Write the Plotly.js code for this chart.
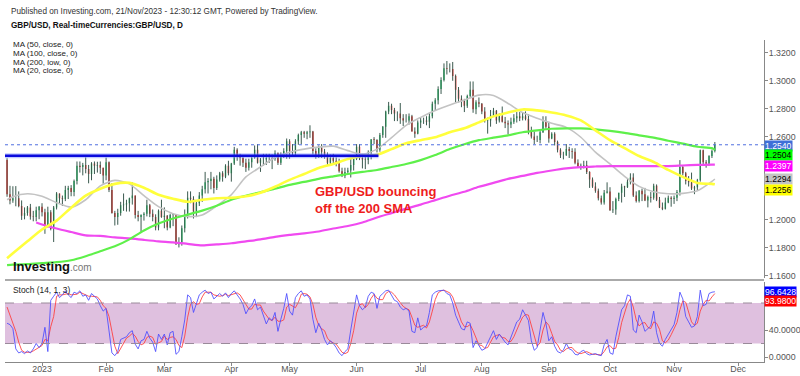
<!DOCTYPE html>
<html><head><meta charset="utf-8">
<script src="https://cdn.plot.ly/plotly-3.0.1.min.js"></script>
<style>html,body{margin:0;padding:0;background:#fff}#chart{width:800px;height:376px}</style>
</head><body><div id="chart"></div>
<script>
// ---------- DATA ----------
const dates = [
'2022-12-15','2022-12-16','2022-12-19','2022-12-20','2022-12-21','2022-12-22','2022-12-23','2022-12-26','2022-12-27','2022-12-28','2022-12-29','2022-12-30',
'2023-01-02','2023-01-03','2023-01-04','2023-01-05','2023-01-06','2023-01-09','2023-01-10','2023-01-11','2023-01-12','2023-01-13','2023-01-16','2023-01-17','2023-01-18','2023-01-19','2023-01-20','2023-01-23','2023-01-24','2023-01-25','2023-01-26','2023-01-27','2023-01-30','2023-01-31',
'2023-02-01','2023-02-02','2023-02-03','2023-02-06','2023-02-07','2023-02-08','2023-02-09','2023-02-10','2023-02-13','2023-02-14','2023-02-15','2023-02-16','2023-02-17','2023-02-20','2023-02-21','2023-02-22','2023-02-23','2023-02-24','2023-02-27','2023-02-28',
'2023-03-01','2023-03-02','2023-03-03','2023-03-06','2023-03-07','2023-03-08','2023-03-09','2023-03-10','2023-03-13','2023-03-14','2023-03-15','2023-03-16','2023-03-17','2023-03-20','2023-03-21','2023-03-22','2023-03-23','2023-03-24','2023-03-27','2023-03-28','2023-03-29','2023-03-30','2023-03-31',
'2023-04-03','2023-04-04','2023-04-05','2023-04-06','2023-04-07','2023-04-10','2023-04-11','2023-04-12','2023-04-13','2023-04-14','2023-04-17','2023-04-18','2023-04-19','2023-04-20','2023-04-21','2023-04-24','2023-04-25','2023-04-26','2023-04-27','2023-04-28',
'2023-05-01','2023-05-02','2023-05-03','2023-05-04','2023-05-05','2023-05-08','2023-05-09','2023-05-10','2023-05-11','2023-05-12','2023-05-15','2023-05-16','2023-05-17','2023-05-18','2023-05-19','2023-05-22','2023-05-23','2023-05-24','2023-05-25','2023-05-26','2023-05-29','2023-05-30','2023-05-31',
'2023-06-01','2023-06-02','2023-06-05','2023-06-06','2023-06-07','2023-06-08','2023-06-09','2023-06-12','2023-06-13','2023-06-14','2023-06-15','2023-06-16','2023-06-19','2023-06-20','2023-06-21','2023-06-22','2023-06-23','2023-06-26','2023-06-27','2023-06-28','2023-06-29','2023-06-30',
'2023-07-03','2023-07-04','2023-07-05','2023-07-06','2023-07-07','2023-07-10','2023-07-11','2023-07-12','2023-07-13','2023-07-14','2023-07-17','2023-07-18','2023-07-19','2023-07-20','2023-07-21','2023-07-24','2023-07-25','2023-07-26','2023-07-27','2023-07-28','2023-07-31',
'2023-08-01','2023-08-02','2023-08-03','2023-08-04','2023-08-07','2023-08-08','2023-08-09','2023-08-10','2023-08-11','2023-08-14','2023-08-15','2023-08-16','2023-08-17','2023-08-18','2023-08-21','2023-08-22','2023-08-23','2023-08-24','2023-08-25','2023-08-28','2023-08-29','2023-08-30','2023-08-31',
'2023-09-01','2023-09-04','2023-09-05','2023-09-06','2023-09-07','2023-09-08','2023-09-11','2023-09-12','2023-09-13','2023-09-14','2023-09-15','2023-09-18','2023-09-19','2023-09-20','2023-09-21','2023-09-22','2023-09-25','2023-09-26','2023-09-27','2023-09-28','2023-09-29',
'2023-10-02','2023-10-03','2023-10-04','2023-10-05','2023-10-06','2023-10-09','2023-10-10','2023-10-11','2023-10-12','2023-10-13','2023-10-16','2023-10-17','2023-10-18','2023-10-19','2023-10-20','2023-10-23','2023-10-24','2023-10-25','2023-10-26','2023-10-27','2023-10-30','2023-10-31',
'2023-11-01','2023-11-02','2023-11-03','2023-11-06','2023-11-07','2023-11-08','2023-11-09','2023-11-10','2023-11-13','2023-11-14','2023-11-15','2023-11-16','2023-11-17','2023-11-20','2023-11-21'
];
const open = [
1.2430,1.2185,1.2140,1.2155,1.2155,1.2100,1.2030,1.2050,1.2090,1.2025,1.2020,1.2070,
1.2095,1.2055,1.1960,1.2055,1.1935,1.2090,1.2190,1.2155,1.2150,1.2215,1.2230,1.2200,1.2280,1.2390,1.2380,1.2395,1.2365,1.2330,1.2405,1.2390,1.2395,1.2375,
1.2320,1.2415,1.2215,1.2050,1.2020,1.2050,1.2105,1.2110,1.2120,1.2155,1.2175,1.2035,1.2020,1.2035,1.2045,1.2105,1.2045,1.2020,1.1945,1.2065,
1.2020,1.2030,1.1945,1.2035,1.2040,1.1825,1.1835,1.1940,1.2030,1.2160,1.2150,1.2060,1.2120,1.2175,1.2220,1.2270,1.2280,1.2295,1.2230,1.2290,1.2335,1.2310,1.2390,
1.2335,1.2405,1.2505,1.2455,1.2445,1.2410,1.2375,1.2415,1.2445,1.2505,1.2410,1.2435,1.2435,1.2445,1.2445,1.2440,1.2480,1.2410,1.2470,1.2495,
1.2565,1.2495,1.2480,1.2565,1.2610,1.2630,1.2620,1.2630,1.2635,1.2495,1.2455,1.2520,1.2490,1.2455,1.2410,1.2445,1.2425,1.2415,1.2350,1.2315,1.2345,1.2355,1.2395,
1.2440,1.2525,1.2445,1.2435,1.2430,1.2485,1.2580,1.2575,1.2505,1.2610,1.2670,1.2780,1.2820,1.2790,1.2765,1.2765,1.2730,1.2715,1.2715,1.2745,1.2635,1.2620,
1.2700,1.2715,1.2715,1.2705,1.2745,1.2835,1.2860,1.2940,1.3005,1.3090,1.3085,1.3085,1.3035,1.2935,1.2870,1.2855,1.2820,1.2890,1.2935,1.2795,1.2845,
1.2835,1.2780,1.2710,1.2715,1.2750,1.2785,1.2715,1.2745,1.2705,1.2695,1.2685,1.2705,1.2730,1.2745,1.2730,1.2745,1.2725,1.2640,1.2600,1.2575,1.2575,1.2630,1.2705,
1.2670,1.2585,1.2620,1.2560,1.2505,1.2465,1.2465,1.2510,1.2495,1.2490,1.2410,1.2385,1.2390,1.2395,1.2345,1.2290,1.2240,1.2210,1.2155,1.2125,1.2195,
1.2205,1.2070,1.2075,1.2150,1.2195,1.2240,1.2235,1.2275,1.2305,1.2175,1.2135,1.2210,1.2185,1.2140,1.2165,1.2160,1.2245,1.2145,1.2090,1.2080,1.2125,1.2160,
1.2150,1.2160,1.2200,1.2380,1.2335,1.2280,1.2270,1.2225,1.2235,1.2285,1.2500,1.2415,1.2405,1.2460,1.2495
];
const high = [
1.2443,1.2245,1.2242,1.2243,1.2205,1.2140,1.2090,1.2100,1.2115,1.2065,1.2095,1.2100,
1.2120,1.2080,1.2095,1.2070,1.2100,1.2200,1.2190,1.2175,1.2245,1.2245,1.2250,1.2290,1.2420,1.2420,1.2410,1.2450,1.2395,1.2415,1.2420,1.2418,1.2420,1.2375,
1.2448,1.2420,1.2265,1.2065,1.2080,1.2130,1.2190,1.2145,1.2160,1.2270,1.2175,1.2065,1.2040,1.2055,1.2145,1.2115,1.2075,1.2040,1.2075,1.2145,
1.2090,1.2035,1.2045,1.2045,1.2040,1.1875,1.1960,1.2075,1.2205,1.2205,1.2170,1.2130,1.2200,1.2245,1.2345,1.2300,1.2345,1.2310,1.2320,1.2345,1.2350,1.2400,1.2425,
1.2410,1.2525,1.2515,1.2475,1.2455,1.2440,1.2440,1.2455,1.2535,1.2545,1.2445,1.2475,1.2475,1.2475,1.2470,1.2500,1.2485,1.2485,1.2515,1.2585,
1.2580,1.2545,1.2580,1.2620,1.2640,1.2640,1.2640,1.2680,1.2640,1.2515,1.2535,1.2545,1.2510,1.2485,1.2470,1.2475,1.2450,1.2440,1.2375,1.2375,1.2375,1.2445,1.2445,
1.2545,1.2545,1.2475,1.2465,1.2500,1.2580,1.2595,1.2580,1.2625,1.2675,1.2785,1.2848,1.2835,1.2805,1.2780,1.2840,1.2760,1.2760,1.2765,1.2755,1.2665,1.2715,
1.2735,1.2735,1.2745,1.2770,1.2850,1.2875,1.2960,1.3025,1.3125,1.3142,1.3125,1.3135,1.3045,1.2955,1.2895,1.2870,1.2900,1.2995,1.2995,1.2860,1.2880,
1.2840,1.2810,1.2735,1.2790,1.2805,1.2790,1.2765,1.2815,1.2740,1.2715,1.2735,1.2760,1.2775,1.2775,1.2770,1.2780,1.2760,1.2670,1.2635,1.2605,1.2645,1.2745,1.2745,
1.2705,1.2630,1.2630,1.2570,1.2515,1.2490,1.2545,1.2525,1.2515,1.2515,1.2435,1.2405,1.2425,1.2425,1.2350,1.2305,1.2270,1.2225,1.2175,1.2215,1.2270,
1.2235,1.2135,1.2160,1.2195,1.2260,1.2245,1.2295,1.2335,1.2335,1.2205,1.2215,1.2225,1.2230,1.2175,1.2200,1.2260,1.2255,1.2165,1.2125,1.2160,1.2175,1.2170,
1.2175,1.2215,1.2430,1.2395,1.2345,1.2315,1.2340,1.2245,1.2295,1.2505,1.2505,1.2430,1.2465,1.2505,1.2560
];
const low = [
1.2166,1.2112,1.2123,1.2098,1.2091,1.2000,1.2004,1.2030,1.2002,1.1990,1.1990,1.2005,
1.2025,1.1900,1.1945,1.1925,1.1841,1.2075,1.2120,1.2100,1.2135,1.2150,1.2170,1.2170,1.2255,1.2340,1.2320,1.2335,1.2263,1.2285,1.2330,1.2340,1.2330,1.2260,
1.2285,1.2200,1.2045,1.1960,1.1965,1.2030,1.2065,1.2060,1.2060,1.2110,1.2010,1.1990,1.1915,1.1995,1.2025,1.2020,1.1990,1.1925,1.1925,1.2015,
1.1940,1.1925,1.1940,1.1955,1.1820,1.1802,1.1815,1.1910,1.2010,1.2120,1.2010,1.2020,1.2100,1.2130,1.2190,1.2190,1.2220,1.2190,1.2215,1.2275,1.2275,1.2300,1.2320,
1.2275,1.2395,1.2425,1.2390,1.2380,1.2345,1.2355,1.2375,1.2440,1.2405,1.2345,1.2390,1.2395,1.2410,1.2365,1.2425,1.2395,1.2395,1.2445,1.2440,
1.2440,1.2455,1.2455,1.2540,1.2545,1.2590,1.2580,1.2590,1.2470,1.2440,1.2445,1.2445,1.2440,1.2390,1.2395,1.2405,1.2385,1.2340,1.2308,1.2300,1.2325,1.2305,1.2355,
1.2430,1.2430,1.2370,1.2365,1.2400,1.2435,1.2545,1.2485,1.2490,1.2590,1.2590,1.2760,1.2760,1.2710,1.2710,1.2690,1.2675,1.2700,1.2685,1.2635,1.2590,1.2615,
1.2660,1.2690,1.2680,1.2660,1.2730,1.2790,1.2830,1.2905,1.2995,1.3045,1.3060,1.3000,1.2845,1.2845,1.2810,1.2775,1.2805,1.2875,1.2770,1.2760,1.2810,
1.2760,1.2700,1.2620,1.2670,1.2740,1.2690,1.2700,1.2700,1.2660,1.2615,1.2660,1.2690,1.2700,1.2710,1.2715,1.2715,1.2615,1.2585,1.2545,1.2560,1.2550,1.2625,1.2655,
1.2555,1.2580,1.2535,1.2485,1.2445,1.2435,1.2460,1.2445,1.2440,1.2400,1.2375,1.2360,1.2370,1.2330,1.2230,1.2230,1.2195,1.2140,1.2110,1.2110,1.2190,
1.2065,1.2050,1.2037,1.2135,1.2125,1.2165,1.2230,1.2255,1.2165,1.2125,1.2125,1.2135,1.2135,1.2090,1.2125,1.2145,1.2135,1.2085,1.2070,1.2075,1.2120,1.2095,
1.2115,1.2135,1.2175,1.2320,1.2255,1.2240,1.2215,1.2185,1.2215,1.2275,1.2400,1.2375,1.2390,1.2445,1.2485
];
const close = [
1.2185,1.2140,1.2155,1.2155,1.2100,1.2030,1.2050,1.2090,1.2025,1.2020,1.2070,1.2095,
1.2055,1.1960,1.2055,1.1935,1.2090,1.2190,1.2155,1.2150,1.2215,1.2230,1.2200,1.2280,1.2390,1.2380,1.2395,1.2365,1.2330,1.2405,1.2390,1.2395,1.2375,1.2320,
1.2415,1.2215,1.2050,1.2020,1.2050,1.2105,1.2110,1.2120,1.2155,1.2175,1.2035,1.2020,1.2035,1.2045,1.2105,1.2045,1.2020,1.1945,1.2065,1.2020,
1.2030,1.1945,1.2035,1.2040,1.1825,1.1835,1.1940,1.2030,1.2160,1.2150,1.2060,1.2120,1.2175,1.2220,1.2270,1.2280,1.2295,1.2230,1.2290,1.2335,1.2310,1.2390,1.2335,
1.2405,1.2505,1.2455,1.2445,1.2410,1.2375,1.2415,1.2445,1.2505,1.2410,1.2435,1.2435,1.2445,1.2445,1.2440,1.2480,1.2410,1.2470,1.2495,1.2565,
1.2495,1.2480,1.2565,1.2610,1.2630,1.2620,1.2630,1.2635,1.2495,1.2455,1.2520,1.2490,1.2455,1.2410,1.2445,1.2425,1.2415,1.2350,1.2315,1.2345,1.2355,1.2395,1.2440,
1.2525,1.2445,1.2435,1.2430,1.2485,1.2580,1.2575,1.2505,1.2610,1.2670,1.2780,1.2820,1.2790,1.2765,1.2765,1.2730,1.2715,1.2715,1.2745,1.2635,1.2620,1.2700,
1.2715,1.2715,1.2705,1.2745,1.2835,1.2860,1.2940,1.3005,1.3090,1.3085,1.3085,1.3035,1.2935,1.2870,1.2855,1.2820,1.2890,1.2935,1.2795,1.2845,1.2835,
1.2780,1.2710,1.2715,1.2750,1.2785,1.2715,1.2745,1.2705,1.2695,1.2685,1.2705,1.2730,1.2745,1.2730,1.2745,1.2725,1.2640,1.2600,1.2575,1.2575,1.2630,1.2705,1.2670,
1.2585,1.2620,1.2560,1.2505,1.2465,1.2465,1.2510,1.2495,1.2490,1.2410,1.2385,1.2390,1.2395,1.2345,1.2290,1.2240,1.2210,1.2155,1.2125,1.2195,1.2205,
1.2070,1.2075,1.2150,1.2195,1.2240,1.2235,1.2275,1.2305,1.2175,1.2135,1.2210,1.2185,1.2140,1.2165,1.2160,1.2245,1.2145,1.2090,1.2080,1.2125,1.2160,1.2150,
1.2160,1.2200,1.2380,1.2335,1.2280,1.2270,1.2225,1.2235,1.2285,1.2500,1.2415,1.2405,1.2460,1.2495,1.2540
];
// moving averages (weekly samples)
const maDates = ['2022-12-15','2022-12-19','2022-12-26','2023-01-02','2023-01-09','2023-01-16','2023-01-23','2023-01-30','2023-02-06','2023-02-13','2023-02-20','2023-02-27','2023-03-06','2023-03-13','2023-03-20','2023-03-27','2023-04-03','2023-04-10','2023-04-17','2023-04-24','2023-05-01','2023-05-08','2023-05-15','2023-05-22','2023-05-29','2023-06-05','2023-06-12','2023-06-19','2023-06-26','2023-07-03','2023-07-10','2023-07-17','2023-07-24','2023-07-31','2023-08-07','2023-08-14','2023-08-21','2023-08-28','2023-09-04','2023-09-11','2023-09-18','2023-09-25','2023-10-02','2023-10-09','2023-10-16','2023-10-23','2023-10-30','2023-11-06','2023-11-13','2023-11-20','2023-11-21'];
const ma50 = [1.1725,1.1760,1.1846,1.1931,1.1995,1.2088,1.2174,1.2224,1.2259,1.2266,1.2231,1.2181,1.2152,1.2131,1.2145,1.2156,1.2159,1.2170,1.2195,1.2238,1.2288,1.2330,1.2373,1.2402,1.2437,1.2459,1.2469,1.2509,1.2551,1.2573,1.2594,1.2630,1.2658,1.2701,1.2744,1.2772,1.2794,1.2787,1.2772,1.2751,1.2715,1.2644,1.2573,1.2516,1.2459,1.2416,1.2359,1.2309,1.2266,1.2259,1.2256];
const ma100 = [1.1675,1.1678,1.1682,1.1689,1.1696,1.1710,1.1739,1.1775,1.1810,1.1860,1.1924,1.1974,1.2010,1.2038,1.2067,1.2102,1.2145,1.2174,1.2199,1.2224,1.2252,1.2273,1.2295,1.2313,1.2330,1.2345,1.2359,1.2380,1.2402,1.2430,1.2466,1.2509,1.2544,1.2573,1.2591,1.2608,1.2630,1.2644,1.2655,1.2658,1.2658,1.2651,1.2640,1.2626,1.2608,1.2591,1.2569,1.2548,1.2526,1.2516,1.2504];
const ma20 = [1.2145,1.2167,1.2188,1.2170,1.2124,1.2092,1.2145,1.2245,1.2284,1.2259,1.2174,1.2095,1.2045,1.2024,1.2035,1.2102,1.2181,1.2309,1.2380,1.2448,1.2487,1.2509,1.2523,1.2530,1.2498,1.2473,1.2509,1.2591,1.2680,1.2737,1.2787,1.2826,1.2861,1.2897,1.2894,1.2837,1.2772,1.2730,1.2694,1.2665,1.2594,1.2487,1.2402,1.2313,1.2241,1.2202,1.2188,1.2191,1.2209,1.2277,1.2294];
const ma200Dates = ['2022-12-29','2023-01-02','2023-01-09','2023-01-16','2023-01-23','2023-01-30','2023-02-06','2023-02-13','2023-02-20','2023-02-27','2023-03-06','2023-03-13','2023-03-20','2023-03-27','2023-04-03','2023-04-10','2023-04-17','2023-04-24','2023-05-01','2023-05-08','2023-05-15','2023-05-22','2023-05-29','2023-06-05','2023-06-12','2023-06-19','2023-06-26','2023-07-03','2023-07-10','2023-07-17','2023-07-24','2023-07-31','2023-08-07','2023-08-14','2023-08-21','2023-08-28','2023-09-04','2023-09-11','2023-09-18','2023-09-25','2023-10-02','2023-10-09','2023-10-16','2023-10-23','2023-10-30','2023-11-06','2023-11-13','2023-11-20','2023-11-21'];
const ma200 = [1.1981,1.1967,1.1938,1.1913,1.1889,1.1885,1.1874,1.1867,1.1856,1.1846,1.1839,1.1828,1.1817,1.1824,1.1832,1.1846,1.1860,1.1878,1.1892,1.1903,1.1917,1.1938,1.1956,1.1981,1.2017,1.2049,1.2081,1.2110,1.2142,1.2174,1.2202,1.2238,1.2266,1.2295,1.2316,1.2338,1.2355,1.2370,1.2380,1.2384,1.2387,1.2387,1.2387,1.2387,1.2387,1.2391,1.2395,1.2397,1.2397];
// stochastic (14,1,3)
const stochK = [
50,48,42,12,6,8,5,9,6,12,20,14,
20,44,8,84,90,96,88,92,98,92,88,96,94,98,90,92,84,94,90,86,76,68,
72,40,6,2,8,26,28,30,36,39,19,12,24,26,38,28,22,8,34,26,
34,18,36,38,4,8,30,55,92,88,66,80,92,96,99,94,96,86,90,94,90,95,88,
94,98,92,86,78,64,72,76,86,70,74,60,49,58,54,66,38,56,72,94,
68,62,88,94,98,90,92,86,56,36,50,40,26,18,24,20,14,6,2,8,12,40,64,
92,76,70,74,90,96,94,72,90,94,98,99,92,84,82,74,70,72,68,38,36,58,
40,44,46,66,92,96,98,99,99,94,92,80,62,52,42,40,52,50,14,24,16,
10,12,20,30,39,26,34,28,22,18,30,42,52,56,70,62,54,24,10,14,39,66,50,
24,30,16,8,6,10,20,12,10,4,3,8,10,5,3,4,5,3,2,18,26,
6,4,30,52,70,76,92,90,40,36,62,52,38,42,46,68,36,20,16,26,34,40,
48,66,96,86,60,52,44,46,60,99,76,78,94,96,96.6428
];
const stochD = [
74,62,50,38,22,10,7,7,7,9,12,15,
17,26,24,45,60,90,92,92,93,94,92,92,93,96,94,93,90,90,90,89,84,76,
72,60,38,16,5,12,20,28,31,35,31,23,18,20,29,31,29,19,21,23,
31,26,29,30,26,17,14,31,59,78,82,78,79,89,96,96,96,92,91,90,91,93,91,
92,93,95,92,85,76,71,71,78,77,77,68,61,56,54,59,53,53,55,74,
78,75,73,81,93,94,93,89,78,59,47,42,39,28,23,21,19,13,7,5,7,20,39,
65,77,79,73,78,87,93,87,85,85,94,97,96,92,86,80,75,72,70,59,47,44,
45,47,43,52,68,85,95,98,99,97,95,89,78,65,52,45,45,48,39,29,18,
17,13,14,21,30,32,33,29,28,23,23,30,41,50,59,63,62,47,29,16,21,40,52,
47,35,23,18,10,8,12,14,14,9,6,5,7,8,6,4,4,4,3,8,15,
17,12,13,29,51,66,79,86,74,55,46,50,51,44,42,52,50,41,24,21,25,33,
41,51,70,83,81,66,52,47,50,68,78,84,83,89,93.98
];
// axis ticks (1.2200 and 1.2400 labels sit under the value tags in the reference)
const monthTickDates = ['2023-01-02','2023-02-01','2023-03-01','2023-04-03','2023-05-01','2023-06-01','2023-07-03','2023-08-01','2023-09-01','2023-10-02','2023-11-01','2023-12-01'];
const monthTickLabels = ['2023','Feb','Mar','Apr','May','Jun','Jul','Aug','Sep','Oct','Nov','Dec'];
const priceTicks = [1.16,1.18,1.20,1.22,1.24,1.26,1.28,1.30,1.32];
const priceTickLabels = ['1.1600','1.1800','1.2000','','','1.2600','1.2800','1.3000','1.3200'];
const stochTicks = [0,40];
const stochTickLabels = ['0.0000','40.0000'];
const supportLevel = 1.2461;
const lastPrice = 1.2540;
const priceTags = [
  {v:1.2540, t:'1.2540', bg:'#3f6fd8', fc:'#ffffff', sh:-1},
  {v:1.2504, t:'1.2504', bg:'#00ff00', fc:'#000000', sh:-5.5},
  {v:1.2397, t:'1.2397', bg:'#ff00ff', fc:'#ffffff', sh:-1},
  {v:1.2294, t:'1.2294', bg:'#c4c4c4', fc:'#000000', sh:0},
  {v:1.2256, t:'1.2256', bg:'#ffff00', fc:'#000000', sh:-5.5}
];
const stochTags = [
  {v:96.6428, t:'96.6428', bg:'#0000ff', fc:'#ffffff', sh:0},
  {v:93.98, t:'93.9800', bg:'#ff0000', fc:'#ffffff', sh:-7}
];

// ---------- BUILD ----------
const FONT = 'Liberation Sans, Arial, sans-serif';
const wx = [], wy = [];
for (let i = 0; i < dates.length; i++) { wx.push(dates[i], dates[i], null); wy.push(low[i], high[i], null); }

const traces = [
  {type:'scatter', mode:'lines', x:wx, y:wy, line:{color:'#3b5a4f', width:1}, hoverinfo:'skip', xaxis:'x', yaxis:'y'},
  {type:'candlestick', x:dates, open:open, high:high, low:low, close:close, xaxis:'x', yaxis:'y',
   increasing:{line:{color:'#1ec865', width:0}, fillcolor:'#1ec865'},
   decreasing:{line:{color:'#ff1414', width:0}, fillcolor:'#ff1414'}, hoverinfo:'skip'},
  {type:'scatter', mode:'lines', x:maDates, y:ma20, line:{color:'#c3c3c3', width:1.6, shape:'spline', smoothing:0.7}, hoverinfo:'skip'},
  {type:'scatter', mode:'lines', x:ma200Dates, y:ma200, line:{color:'#f04af0', width:2.2, shape:'spline', smoothing:0.7}, hoverinfo:'skip'},
  {type:'scatter', mode:'lines', x:maDates, y:ma100, line:{color:'#5ef04a', width:2.2, shape:'spline', smoothing:0.7}, hoverinfo:'skip'},
  {type:'scatter', mode:'lines', x:maDates, y:ma50, line:{color:'#ffff3c', width:2.6, shape:'spline', smoothing:0.7}, hoverinfo:'skip'},
  {type:'scatter', mode:'lines', x:dates, y:stochD, xaxis:'x', yaxis:'y2', line:{color:'#ff3b3b', width:1}, opacity:0.85, hoverinfo:'skip'},
  {type:'scatter', mode:'lines', x:dates, y:stochK, xaxis:'x', yaxis:'y2', line:{color:'#4a4aff', width:1}, opacity:0.85, hoverinfo:'skip'}
];

// pixel helpers for paper coordinates (plot area: x 5..764, y 40..362)
const PX = p => (p - 5) / 759;
const PY = p => (362 - p) / 322;

const ann = [];
const txt = (x, y, text, size, color, extra) => ann.push(Object.assign({xref:'paper', yref:'paper', x:PX(x), y:PY(y), text:text, showarrow:false, xanchor:'left', yanchor:'middle', font:{family:FONT, size:size, color:color}}, extra || {}));
txt(9, 11, 'Published on Investing.com, 21/Nov/2023 - 12:30:12 GMT, Powered by TradingView.', 8.2, '#333');
txt(9, 25, '<b>GBP/USD, Real-timeCurrencies:GBP/USD, D</b>', 8.2, '#111');
txt(11, 45, 'MA (50, close, 0)', 8, '#222');
txt(11, 53.5, 'MA (100, close, 0)', 8, '#222');
txt(11, 62, 'MA (200, low, 0)', 8, '#222');
txt(11, 70.5, 'MA (20, close, 0)', 8, '#222');
txt(11, 290, 'Stoch (14, 1, 3)', 8.4, '#222');
txt(11, 266, '<b>Investing</b>', 13, '#111');
txt(68, 267.5, '.com', 10, '#777');
ann.push({xref:'x', yref:'y', x:'2023-05-11', y:1.2142, text:'<b>GBP/USD bouncing<br>off the 200 SMA</b>', showarrow:false, xanchor:'left', yanchor:'middle', align:'left', font:{family:FONT, size:13, color:'#ee1c1c'}});
priceTags.forEach(p => ann.push({xref:'paper', yref:'y', x:1, y:p.v, yshift:p.sh, text:p.t, showarrow:false, xanchor:'left', yanchor:'middle', bgcolor:p.bg, borderpad:0, font:{family:FONT, size:8.6, color:p.fc}}));
stochTags.forEach(p => ann.push({xref:'paper', yref:'y2', x:1, y:p.v, yshift:p.sh, text:p.t, showarrow:false, xanchor:'left', yanchor:'middle', bgcolor:p.bg, borderpad:0, font:{family:FONT, size:8.6, color:p.fc}}));

const shapes = [
  {type:'rect', xref:'paper', yref:'y2', x0:0, x1:1, y0:20, y1:80, fillcolor:'#dfc0df', line:{width:0}, layer:'below'},
  {type:'line', xref:'paper', yref:'y2', x0:0, x1:1, y0:80, y1:80, line:{color:'#9a8a9a', width:1, dash:'dash'}},
  {type:'line', xref:'paper', yref:'y2', x0:0, x1:1, y0:20, y1:20, line:{color:'#9a8a9a', width:1, dash:'dash'}},
  {type:'line', xref:'paper', yref:'paper', x0:0, x1:1, y0:PY(280), y1:PY(280), line:{color:'#aaaaaa', width:2}},
  {type:'line', xref:'paper', yref:'y', x0:0, x1:1, y0:lastPrice, y1:lastPrice, line:{color:'#4f6fe0', width:1, dash:'dot'}},
  {type:'line', xref:'x', yref:'y', x0:'2022-12-14 06:00', x1:'2023-06-12 12:00', y0:supportLevel, y1:supportLevel, line:{color:'rgba(120,140,255,0.45)', width:5}},
  {type:'line', xref:'x', yref:'y', x0:'2022-12-14 06:00', x1:'2023-06-12 12:00', y0:supportLevel, y1:supportLevel, line:{color:'#0a0adc', width:2.4}}
];

const axCommon = {showgrid:false, zeroline:false, fixedrange:true, showline:true, linecolor:'#888', linewidth:1, ticks:'outside', ticklen:3, tickcolor:'#888', tickfont:{family:FONT, size:8.8, color:'#555'}};
const layout = {
  width:800, height:376, margin:{l:5, r:36, t:40, b:14},
  paper_bgcolor:'#ffffff', plot_bgcolor:'#ffffff', showlegend:false,
  font:{family:FONT, size:9, color:'#555'},
  xaxis:Object.assign({}, axCommon, {type:'date', anchor:'y2', range:['2022-12-14 07:00','2023-12-13 21:00'],
    rangebreaks:[{bounds:['sat','mon']}], tickmode:'array', tickvals:monthTickDates, ticktext:monthTickLabels,
    ticklabelstandoff:-5, rangeslider:{visible:false}}),
  yaxis:Object.assign({}, axCommon, {domain:[PY(280)+0.006, 1], range:[1.1582, 1.3293], side:'right', tickmode:'array', tickvals:priceTicks, ticktext:priceTickLabels, ticklabelstandoff:-1}),
  yaxis2:Object.assign({}, axCommon, {domain:[0, PY(282)], range:[-7.4, 111.1], side:'right', tickmode:'array', tickvals:stochTicks, ticktext:stochTickLabels, ticklabelstandoff:-1}),
  annotations:ann, shapes:shapes
};
Plotly.newPlot('chart', traces, layout, {staticPlot:true, displayModeBar:false});
</script></body></html>
